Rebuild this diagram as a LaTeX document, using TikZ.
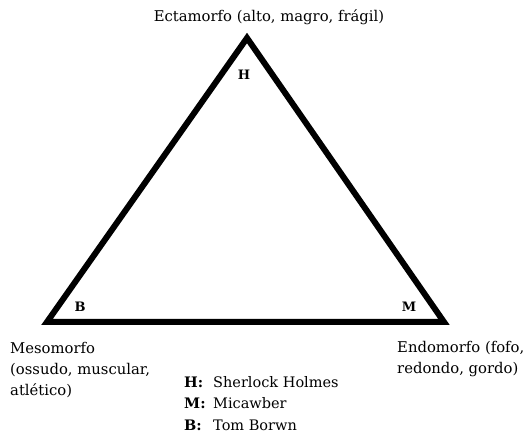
\documentclass[tikz,border=0pt]{standalone}
\usepackage{fontspec}
\setmainfont{DejaVu Serif}
\begin{document}
\begin{tikzpicture}[x=1pt,y=-1pt,
  lbl/.style={font=\fontsize{14.8}{21}\selectfont, inner sep=0pt},
  vtx/.style={font=\fontsize{13}{15}\selectfont\bfseries, inner sep=0pt},
  leg/.style={font=\fontsize{14.5}{16}\selectfont, inner sep=0pt, anchor=base west}]
\useasboundingbox (0,0) rectangle (530,435);
\coordinate (top) at (247,38);
\coordinate (bl) at (47,322);
\coordinate (br) at (444,322);
\draw[line width=6pt, line join=miter] (top) -- (br) -- (bl) -- cycle;
\node[lbl, anchor=base] (ecta) at (269,22) {Ectamorfo (alto, magro, frágil)};
\node[vtx] (h) at (244,75) {H};
\node[vtx] (b) at (80,307) {B};
\node[vtx] (m) at (409,307) {M};
\node[lbl, anchor=north west, align=left] (meso) at (10,342) {Mesomorfo\\(ossudo, muscular,\\atlético)};
\node[lbl, anchor=north west, align=left] (endo) at (397,341) {Endomorfo (fofo,\\redondo, gordo)};
\node[leg] (lh) at (184,388) {\textbf{H:}};
\node[leg] (lhn) at (213,388) {Sherlock Holmes};
\node[leg] (lm) at (184,409) {\textbf{M:}};
\node[leg] (lmn) at (213,409) {Micawber};
\node[leg] (lb) at (184,430) {\textbf{B:}};
\node[leg] (lbn) at (213,430) {Tom Borwn};
\end{tikzpicture}
\end{document}
